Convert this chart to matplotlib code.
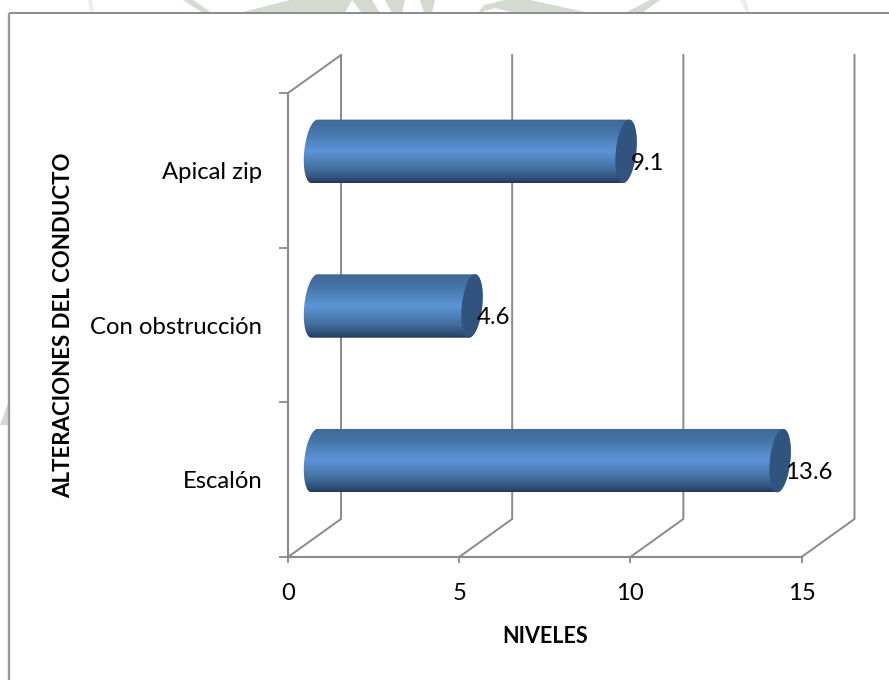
import numpy as np
import matplotlib
matplotlib.use('Agg')
import matplotlib.pyplot as plt
from matplotlib.colors import LinearSegmentedColormap
from matplotlib.patches import Polygon

categories = ['Escalón', 'Con obstrucción', 'Apical zip']
values = [13.6, 4.6, 9.1]
x_ticks = [0, 5, 10, 15]

plt.rcParams['font.family'] = ['Lato', 'DejaVu Sans']
W, H = 889, 680
line_col = '#8a8a8a'
text_size = 17.2

# size of the fake 3d depth, in data units
depth_x = 53 / 34.23
depth_y = 38 / 154.67
bar_h = 0.41
cap_a = 0.30
cap_skew = 0.09

shade = LinearSegmentedColormap.from_list('cyl', [
    (0.0, '#3f6896'), (0.2, '#4675a8'), (0.5, '#5c95d9'),
    (0.78, '#44709f'), (0.92, '#31537d'), (1.0, '#223a5c')])

fig = plt.figure(figsize=(W / 100, H / 100), dpi=100, facecolor='white')

# faint background shapes around the chart panel, in pixels
bg = fig.add_axes([0, 0, 1, 1], zorder=0)
bg.set_xlim(0, W)
bg.set_ylim(H, 0)
bg.axis('off')
for pts in [
    [(239, 13), (290, 0), (352, 0), (345, 13)],
    [(352, 0), (372, 0), (380, 13), (362, 13)],
    [(385, 0), (405, 0), (402, 13), (392, 13)],
    [(420, 0), (435, 0), (432, 13), (424, 13)],
    [(478, 13), (484, 5), (505, 0), (530, 0), (590, 13), (515, 13), (495, 8)],
    [(625, 13), (650, 0), (660, 0), (642, 13)],
    [(183, 0), (193, 0), (212, 13), (203, 13)],
    [(0, 425), (8, 425), (8, 403)],
]:
    bg.add_patch(Polygon(pts, closed=True, fc='#d3dacf', ec='none'))
for pts in [[(88, 0), (92, 0), (94, 13), (90, 13)],
            [(740, 0), (746, 0), (750, 13), (746, 13)]]:
    bg.add_patch(Polygon(pts, closed=True, fc='#eceee9', ec='none'))

# white panel with its top and left border
bg.add_patch(plt.Rectangle((8.5, 13), W, H, fc='white', ec='none'))
bg.plot([8.5, W], [13, 13], color=line_col, lw=1.4, solid_capstyle='butt')
bg.plot([8.5, 8.5], [13, H], color='#999999', lw=1.7, solid_capstyle='butt')

ax = fig.add_axes([288 / W, 1 - 557 / H, (801.5 - 288) / W, (557 - 93) / H], zorder=1)
ax.patch.set_alpha(0)
ax.set_xlim(0, 15)
ax.set_ylim(0, 3)

for s in ['top', 'right']:
    ax.spines[s].set_visible(False)
for s in ['left', 'bottom']:
    ax.spines[s].set_color(line_col)
    ax.spines[s].set_linewidth(1.5)

# back wall and floor lines
for v in x_ticks:
    ax.plot([v, v + depth_x, v + depth_x], [0, depth_y, 3 + depth_y],
            color=line_col, lw=1.4, clip_on=False, zorder=1)
ax.plot([0, depth_x], [3, 3 + depth_y], color=line_col, lw=1.4, clip_on=False, zorder=1)


def half_ellipse(cx, cy, t):
    # skewed ellipse so the bar ends look tilted
    return np.column_stack([cx + cap_a * np.cos(t) + cap_skew * np.sin(t),
                            cy + bar_h / 2 * np.sin(t)])


for i, val in enumerate(values):
    x0 = depth_x / 2
    y0 = i + 0.5 + depth_y / 2
    x1 = x0 + val
    left = half_ellipse(x0, y0, np.linspace(np.pi / 2, 3 * np.pi / 2, 40))
    right = half_ellipse(x1, y0, np.linspace(-np.pi / 2, np.pi / 2, 40))
    body = Polygon(np.vstack([left, right]), closed=True, transform=ax.transData)
    im = ax.imshow(np.linspace(0, 1, 128)[:, None], cmap=shade, aspect='auto',
                   extent=[x0 - 1, x1 + 1, y0 - bar_h / 2, y0 + bar_h / 2],
                   origin='upper', zorder=3)
    im.set_clip_path(body)
    cap = half_ellipse(x1, y0, np.linspace(0, 2 * np.pi, 80))
    ax.add_patch(Polygon(cap, closed=True, fc='#31547f', ec='none', zorder=4, clip_on=False))
    ax.annotate(f'{val}', (x1, y0), xytext=(3.5, -8.5), textcoords='offset points',
                fontsize=text_size, color='black', va='center', ha='left', zorder=5,
                annotation_clip=False)

ax.set_xlim(0, 15)
ax.set_ylim(0, 3)

ax.set_xticks(x_ticks)
ax.set_yticks([0, 1, 2, 3])
ax.set_yticklabels([])
ax.set_yticks([0.5, 1.5, 2.5], minor=True)
ax.set_yticklabels(categories, minor=True, fontsize=text_size)
ax.tick_params(axis='x', length=4.3, width=1.3, color=line_col, pad=14.5, labelsize=text_size)
ax.tick_params(axis='y', which='major', length=6.5, width=1.3, color=line_col)
ax.tick_params(axis='y', which='minor', length=0, pad=18.5)

ax.set_xlabel('NIVELES', fontsize=15.5, fontweight='bold', labelpad=15.5)
ax.set_ylabel('ALTERACIONES DEL CONDUCTO', fontsize=16, fontweight='bold')
ax.yaxis.set_label_coords((74 - 288) / (801.5 - 288), 0.5)

fig.savefig('out.png', dpi=100)
